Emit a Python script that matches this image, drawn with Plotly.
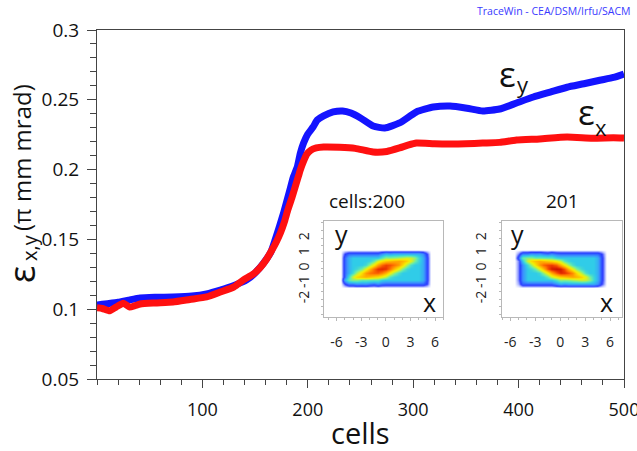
import plotly.graph_objects as go

# ---------------- data ----------------
cells_y = [0, 5, 10, 20, 30, 41, 55, 72, 90, 104, 117, 130, 142, 150, 158, 165, 169, 173, 177, 183,
           186, 190, 193, 196, 200, 205, 209, 215, 224, 233, 241, 250, 262, 273, 287, 303, 319, 335,
           351, 366, 382, 398, 414, 430, 446, 462, 477, 490, 500]
emit_y = [0.103, 0.1035, 0.104, 0.105, 0.1065, 0.108, 0.1085, 0.1088, 0.1095, 0.111, 0.1137, 0.117,
          0.121, 0.126, 0.133, 0.141, 0.1496, 0.159, 0.169, 0.1854, 0.194, 0.2018, 0.212, 0.219,
          0.2255, 0.2305, 0.2355, 0.2385, 0.2413, 0.242, 0.2405, 0.237, 0.2312, 0.2298, 0.2334,
          0.2413, 0.2448, 0.2456, 0.244, 0.242, 0.2434, 0.2477, 0.252, 0.2555, 0.259, 0.2615,
          0.264, 0.266, 0.2685]

cells_x = [0, 5, 12, 18, 25, 31, 36, 41, 55, 72, 88, 104, 117, 130, 139, 148, 155, 161, 166, 170,
           174, 178, 181, 185, 188, 191, 193, 196, 199, 203, 208, 215, 230, 245, 262, 275, 287, 295,
           303, 320, 335, 350, 366, 382, 398, 420, 446, 470, 490, 500]
emit_x = [0.101, 0.1005, 0.0988, 0.1015, 0.1043, 0.1015, 0.1025, 0.1037, 0.1045, 0.1052, 0.107,
          0.1088, 0.1123, 0.116, 0.121, 0.125, 0.130, 0.136, 0.1424, 0.148, 0.1546, 0.163, 0.171,
          0.180, 0.1875, 0.195, 0.2, 0.206, 0.211, 0.214, 0.2155, 0.2162, 0.216, 0.2152, 0.2126,
          0.213, 0.2155, 0.2175, 0.219, 0.2185, 0.2183, 0.2185, 0.219, 0.2195, 0.2212, 0.222,
          0.2233, 0.2225, 0.2228, 0.2226]

x_tick_vals = [100, 200, 300, 400, 500]
y_tick_vals = [0.05, 0.1, 0.15, 0.2, 0.25, 0.3]
y_tick_text = ["0.05", "0.1", "0.15", "0.2", "0.25", "0.3"]

inset_x_ticks = [-6, -3, 0, 3, 6]
inset_x_text = ["-6", "-3", "0", "3", "6"]
inset_y_ticks = [-2, -1, 0, 1, 2]
inset_y_text = ["-2", "-1", "0", "1", "2"]

# phase-space density grids (x-y plane) of the two insets
grid_x = [-5.5, -5.0, -4.5, -4.0, -3.5, -3.0, -2.5, -2.0, -1.5, -1.0, -0.5, 0.0,
          0.5, 1.0, 1.5, 2.0, 2.5, 3.0, 3.5, 4.0, 4.5, 5.0, 5.5]
grid_y = [-1.25, -1.0, -0.75, -0.5, -0.25, 0.0, 0.25, 0.5, 0.75, 1.0, 1.25]

dens_200 = [
    [0] * 23,
    [0, 1, 1.8, 1.8, 2.1, 2.0, 2.1, 1.8, 1.6, 1.95, 1.6, 1.5, 1.5, 1.5, 1.5, 1.5, 1.5, 1.5, 1.5, 1.5, 1.5, 1, 0],
    [0, 2.5, 4.1, 4.6, 4.6, 4.1, 4.1, 4.0, 3.9, 3.9, 3.2, 3, 3, 3, 3, 3, 3, 3, 3, 3, 2.5, 1.2, 0],
    [0, 1.5, 3.5, 5.5, 6.8, 7.3, 7.6, 7.3, 6.9, 6.6, 6.0, 5.2, 3.8, 3.2, 3, 3, 3, 3, 3, 3, 2.5, 1.2, 0],
    [0, 1.5, 2.5, 3.4, 5.0, 6.6, 8.0, 8.7, 9.0, 9.1, 8.5, 7.6, 6.2, 4.8, 3.6, 3, 3, 3, 3, 3, 2.5, 1.2, 0],
    [0, 1.5, 2.5, 3, 3.4, 4.3, 5.8, 7.4, 8.8, 9.8, 10, 9.8, 8.8, 7.4, 5.9, 4.4, 3.4, 3, 3, 3, 2.5, 1.2, 0],
    [0, 1.5, 2.5, 3, 3, 3, 3.4, 4.8, 6.2, 7.8, 8.9, 9.5, 9.3, 8.8, 8.0, 6.6, 5.0, 3.6, 3, 3, 2.5, 1.2, 0],
    [0, 1.5, 2.5, 3, 3, 3, 3, 3.2, 4.0, 5.5, 6.4, 7.0, 7.3, 7.6, 7.8, 7.5, 6.9, 5.8, 4.4, 3.3, 2.5, 1.2, 0],
    [0, 1.5, 2.5, 3, 3, 3, 3, 3, 3, 3, 3.8, 4.7, 4.6, 4.7, 5.0, 5.2, 5.6, 5.4, 4.7, 3.4, 2.5, 1.2, 0],
    [0, 1, 1.5, 1.5, 1.5, 1.5, 1.5, 1.5, 1.5, 1.5, 2, 2.5, 2.3, 2.5, 2.5, 2.5, 2.5, 2.5, 2.5, 2.5, 2, 1, 0],
    [0] * 23,
]

dens_201 = [
    [0] * 23,
    [0, 0.5, 1.5, 1.5, 1.5, 1.5, 1.5, 1.5, 1.5, 1.5, 2, 2.5, 2.3, 2.5, 2.5, 2.5, 2.5, 2.5, 2.5, 2.5, 2, 1, 0],
    [0, 0.7, 2, 3, 3, 3, 3, 3, 3, 3, 3.8, 4.7, 4.6, 4.7, 5.0, 5.2, 5.6, 5.4, 4.7, 3.4, 2.5, 1.2, 0],
    [0, 0.7, 2, 3, 3, 3, 3, 3.2, 4.0, 5.5, 6.4, 7.0, 7.3, 7.6, 7.8, 7.5, 6.9, 5.8, 4.4, 3.3, 2.5, 1.2, 0],
    [0, 0.7, 2, 3, 3, 3, 3.4, 4.8, 6.2, 7.8, 9.2, 10, 9.8, 9.2, 8.3, 6.6, 5.0, 3.6, 3, 3, 2.5, 1.2, 0],
    [0, 0.7, 2, 3, 3.4, 4.3, 5.8, 7.4, 9.2, 10.3, 10.5, 10.3, 9.2, 7.4, 5.9, 4.4, 3.4, 3, 3, 3, 2.5, 1.2, 0],
    [0, 0.7, 2, 3.4, 5.0, 6.6, 8.0, 9.0, 9.4, 9.6, 9.0, 7.6, 6.2, 4.8, 3.6, 3, 3, 3, 3, 3, 2.5, 1.2, 0],
    [0, 0.7, 3, 5.5, 6.8, 7.3, 7.6, 7.3, 6.9, 6.6, 6.0, 5.2, 3.8, 3.2, 3, 3, 3, 3, 3, 3, 2.5, 1.2, 0],
    [0, 1.5, 4.1, 4.6, 4.6, 4.1, 4.1, 4.0, 3.9, 3.9, 3.2, 3, 3, 3, 3, 3, 3, 3, 3, 3, 2.5, 1.2, 0],
    [0, 0.7, 1.8, 1.8, 2.1, 2.0, 2.1, 1.8, 1.6, 1.95, 1.6, 1.5, 1.5, 1.5, 1.5, 1.5, 1.5, 1.5, 1.5, 1.5, 1.5, 1, 0],
    [0] * 23,
]

# ---------------- styling ----------------
FONT = "Open Sans"
W, H = 637, 451
L, R, T, B = 97, 13, 30, 72
PW, PH = W - L - R, H - T - B


def fx(px):
    return (px - L) / PW


def fy(py):
    return (H - B - py) / PH


ZMAX = 10.5
jet_stops = [(0, "#ffffff"), (0.4, "#b8c0ff"), (1, "#2838ff"), (2, "#3c90ff"), (3, "#30cce8"),
             (4.2, "#6aeea8"), (5.2, "#c0f040"), (6.2, "#f8f000"), (7.6, "#ffb000"),
             (8.8, "#ff7000"), (9.8, "#e83000"), (10.5, "#c81000")]
jet = [[v / ZMAX, c] for v, c in jet_stops]

fig = go.Figure()
fig.add_trace(go.Scatter(x=cells_y, y=emit_y, mode="lines", hoverinfo="skip",
                         line=dict(color="#1414ff", width=7, shape="spline", smoothing=0.5)))
fig.add_trace(go.Scatter(x=cells_x, y=emit_x, mode="lines", hoverinfo="skip",
                         line=dict(color="#ff1010", width=7, shape="spline", smoothing=0.5)))
fig.add_trace(go.Heatmap(x=grid_x, y=grid_y, z=dens_200, xaxis="x2", yaxis="y2",
                         zsmooth="best", colorscale=jet, zmin=0, zmax=ZMAX,
                         showscale=False, hoverinfo="skip"))
fig.add_trace(go.Heatmap(x=grid_x, y=grid_y, z=dens_201, xaxis="x3", yaxis="y3",
                         zsmooth="best", colorscale=jet, zmin=0, zmax=ZMAX,
                         showscale=False, hoverinfo="skip"))

axcol = "#444444"
inset_col = "#b8b8b8"


def inset_x(domain, rng, anchor):
    return dict(domain=domain, range=rng, anchor=anchor, showline=True, mirror=True,
                linecolor=inset_col, linewidth=1, showgrid=False, zeroline=False,
                tickvals=inset_x_ticks, ticktext=inset_x_text, automargin=False,
                ticks="outside", ticklen=3, tickcolor=inset_col, ticklabelstandoff=9,
                minor=dict(dtick=1, tick0=0, ticks="outside", ticklen=2, tickcolor=inset_col),
                tickfont=dict(family=FONT, size=14, color="#222"), fixedrange=True)


def inset_y(domain, anchor):
    return dict(domain=domain, range=[-3.15, 3.15], anchor=anchor, showline=True, mirror=True,
                linecolor=inset_col, linewidth=1, showgrid=False, zeroline=False,
                tickvals=inset_y_ticks, ticktext=inset_y_text, tickangle=-90, automargin=False,
                ticks="outside", ticklen=2, tickcolor=inset_col, ticklabelstandoff=7,
                minor=dict(dtick=0.5, tick0=0, ticks="outside", ticklen=2, tickcolor=inset_col),
                tickfont=dict(family=FONT, size=14, color="#222"), fixedrange=True)


ins_y_dom = [fy(316.7), fy(220.7)]

fig.update_layout(
    width=W, height=H,
    margin=dict(l=L, r=R, t=T, b=B, pad=0, autoexpand=False),
    paper_bgcolor="white", plot_bgcolor="white",
    showlegend=False,
    font=dict(family=FONT, color="#111"),
    xaxis=dict(domain=[0, 1], range=[0, 500], showline=True, mirror=True, linecolor=axcol,
               linewidth=1, showgrid=False, zeroline=False, tickvals=x_tick_vals,
               ticks="outside", ticklen=8, tickcolor=axcol, ticklabelstandoff=6,
               ticklabeloverflow="allow", automargin=False,
               minor=dict(dtick=20, tick0=0, ticks="outside", ticklen=5, tickcolor=axcol),
               tickfont=dict(family=FONT, size=18, color="#111")),
    yaxis=dict(domain=[0, 1], range=[0.05, 0.3], showline=True, mirror=True, linecolor=axcol,
               linewidth=1, showgrid=False, zeroline=False, tickvals=y_tick_vals,
               ticktext=y_tick_text, ticks="outside", ticklen=9, tickcolor=axcol,
               ticklabelstandoff=4, automargin=False,
               minor=dict(dtick=0.01, tick0=0.05, ticks="outside", ticklen=6, tickcolor=axcol),
               tickfont=dict(family=FONT, size=19, color="#111")),
    xaxis2=inset_x([fx(324.3), fx(443.3)], [-7.5, 7.0], "y2"),
    yaxis2=inset_y(ins_y_dom, "x2"),
    xaxis3=inset_x([fx(502), fx(621.7)], [-7.0, 7.4], "y3"),
    yaxis3=inset_y(ins_y_dom, "x3"),
)

ann = []


def add_text(text, px, py, size, color="#111", angle=0, xanchor="center", yanchor="middle"):
    ann.append(dict(text=text, x=fx(px), y=fy(py), xref="paper", yref="paper",
                    xanchor=xanchor, yanchor=yanchor, showarrow=False, textangle=angle,
                    font=dict(family=FONT, size=size, color=color)))


# axis titles
add_text("cells", 360, 432, 29)
add_text("ε", 21, 275, 36, angle=-90)
add_text("x,y", 29, 248, 20, angle=-90)
add_text("(π mm mrad)", 21, 158, 24, angle=-90)
# curve labels
add_text("ε", 507, 73, 35)
add_text("y", 523, 84, 22)
add_text("ε", 586, 111, 35)
add_text("x", 601, 127, 22)
# inset titles and axis letters
add_text("cells:200", 367, 201, 19)
add_text("201", 562, 201, 19)
add_text("y", 341, 234, 25)
add_text("x", 429, 302, 25)
add_text("y", 517, 234, 25)
add_text("x", 606, 302, 25)
# watermark
add_text("TraceWin - CEA/DSM/Irfu/SACM", 633, 11, 10.5, color="#3a3aff", xanchor="right")

fig.update_layout(annotations=ann)
fig.write_html("out.html", config={"displayModeBar": False},
               post_script="document.body.style.margin='0';document.body.style.overflow='hidden';")
